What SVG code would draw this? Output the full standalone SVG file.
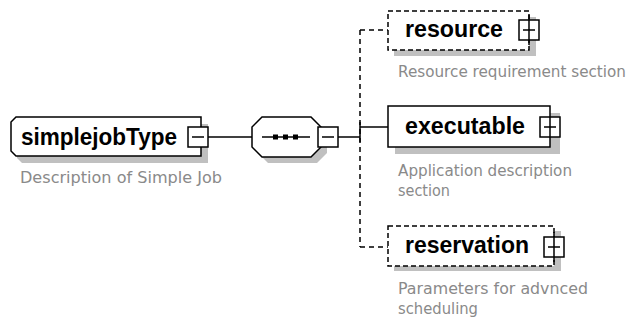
<svg xmlns="http://www.w3.org/2000/svg" width="631" height="320" viewBox="0 0 631 320">
<style>
.shadow{fill:#c0c0c0;stroke:none}
.box{fill:#fff;stroke:#000;stroke-width:1.5}
.dbox{fill:#fff;stroke:#000;stroke-width:1.5;stroke-dasharray:5,3}
.btn{fill:#fff;stroke:#000;stroke-width:1.5}
.sign{stroke:#000;stroke-width:1.5;fill:none}
.label{font-family:"Liberation Sans",Arial,sans-serif;font-weight:bold;font-size:23px;fill:#000}
.desc{font-family:"DejaVu Sans",Verdana,sans-serif;font-size:15px;fill:#8a8a8a}
.line{stroke:#000;stroke-width:1.5;fill:none}
.dline{stroke:#000;stroke-width:1.5;fill:none;stroke-dasharray:5,4}
</style>
<rect width="631" height="320" fill="#fff"/>
<g id="connectors">
<line class="line" x1="208" y1="137" x2="252" y2="137"/>
<line class="line" x1="338" y1="137" x2="360" y2="137"/>
<line class="dline" x1="360" y1="30" x2="360" y2="247"/>
<line class="line" x1="360" y1="122" x2="360" y2="142"/>
<line class="line" x1="360" y1="127" x2="388" y2="127"/>
<line class="dline" x1="360" y1="30" x2="388" y2="30"/>
<line class="dline" x1="360" y1="247" x2="388" y2="247"/>
</g>
<g id="simplejobType">
<path class="shadow" d="M22,124 H208 V163 H22 L17,158 V129 Z"/>
<path class="box" d="M16,117 H201 V156 H16 L11,151 V122 Z"/>
<text class="label" x="21" y="145" textLength="156" lengthAdjust="spacingAndGlyphs">simplejobType</text>
<rect class="btn" x="188" y="127" width="20" height="20"/>
<line class="sign" x1="192" y1="137" x2="204" y2="137"/>
<text class="desc" x="20" y="183" textLength="202" lengthAdjust="spacingAndGlyphs">Description of Simple Job</text>
</g>
<g id="sequence">
<path class="shadow" d="M268,123 H317 L327,133 V153 L317,163 H268 L258,153 V133 Z"/>
<path class="box" d="M262,117 H311 L321,127 V147 L311,157 H262 L252,147 V127 Z"/>
<line class="line" x1="262" y1="137" x2="310" y2="137"/>
<rect x="273" y="134.5" width="5" height="5" fill="#000"/>
<rect x="283" y="134.5" width="5" height="5" fill="#000"/>
<rect x="293" y="134.5" width="5" height="5" fill="#000"/>
<rect class="btn" x="318" y="127" width="20" height="20"/>
<line class="sign" x1="322" y1="137" x2="334" y2="137"/>
</g>
<g id="resource">
<rect class="shadow" x="394" y="17" width="142" height="39"/>
<rect class="dbox" x="388" y="11" width="141" height="39"/>
<text class="label" x="405" y="37" textLength="98" lengthAdjust="spacingAndGlyphs">resource</text>
<rect class="btn" x="519" y="20" width="20" height="20"/>
<path class="sign" d="M523,30 H535 M529,15 V45"/>
<text class="desc" x="398" y="77" textLength="228" lengthAdjust="spacingAndGlyphs">Resource requirement section</text>
</g>
<g id="executable">
<rect class="shadow" x="395" y="113" width="165" height="41"/>
<rect class="box" x="388" y="106" width="162" height="41"/>
<text class="label" x="405" y="134" textLength="120" lengthAdjust="spacingAndGlyphs">executable</text>
<rect class="btn" x="540" y="117" width="20" height="20"/>
<path class="sign" d="M544,127 H556 M550,117 V137"/>
<text class="desc" x="398" y="176" textLength="174" lengthAdjust="spacingAndGlyphs">Application description</text>
<text class="desc" x="398" y="196" textLength="52" lengthAdjust="spacingAndGlyphs">section</text>
</g>
<g id="reservation">
<rect class="shadow" x="394" y="231" width="167" height="40"/>
<rect class="dbox" x="388" y="226" width="166" height="40"/>
<text class="label" x="405" y="253" textLength="124" lengthAdjust="spacingAndGlyphs">reservation</text>
<rect class="btn" x="544" y="237" width="20" height="20"/>
<path class="sign" d="M548,247 H560 M554,232 V262"/>
<text class="desc" x="398" y="294" textLength="190" lengthAdjust="spacingAndGlyphs">Parameters for advnced</text>
<text class="desc" x="398" y="314" textLength="80" lengthAdjust="spacingAndGlyphs">scheduling</text>
</g>
</svg>
